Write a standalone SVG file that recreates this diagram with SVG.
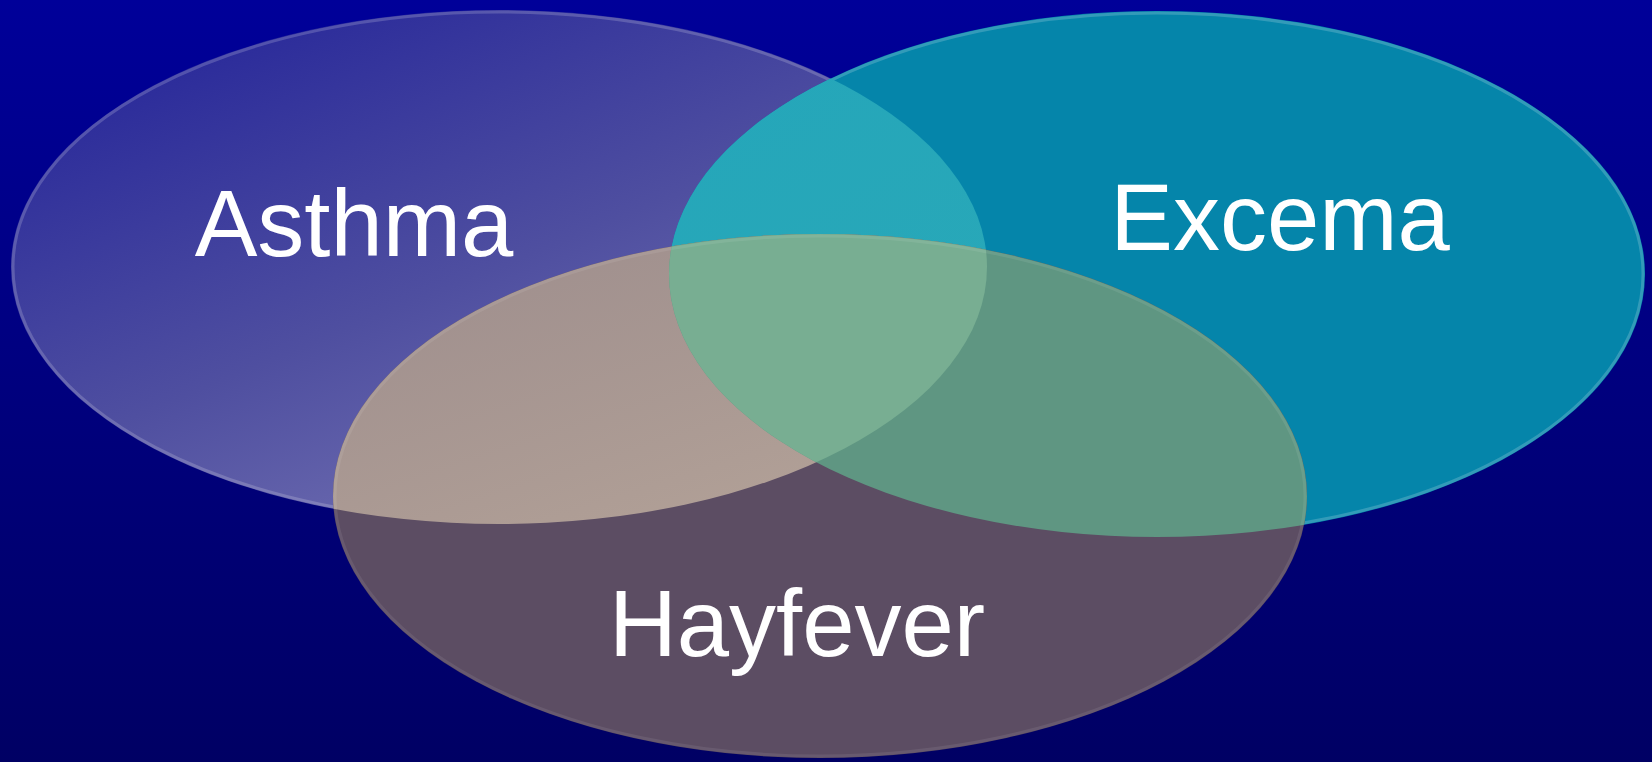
<svg xmlns="http://www.w3.org/2000/svg" width="1652" height="762" viewBox="0 0 1652 762">
  <style>
    .label { font-family: "Liberation Sans", Arial, sans-serif; font-size: 94px; fill: #ffffff; text-anchor: middle; }
    .rim { fill: none; stroke: #ffffff; stroke-opacity: 0.18; stroke-width: 3; }
    .rim-soft { fill: none; stroke: #ffffff; stroke-opacity: 0.08; stroke-width: 3; }
  </style>
  <defs>
    <linearGradient id="bg" x1="0" y1="0" x2="0" y2="1">
      <stop offset="0" stop-color="#000099"/>
      <stop offset="1" stop-color="#000064"/>
    </linearGradient>
    <linearGradient id="gAsthma" x1="0.15" y1="0.05" x2="0.85" y2="0.95">
      <stop offset="0" stop-color="#28289a"/>
      <stop offset="0.5" stop-color="#4f4fa0"/>
      <stop offset="1" stop-color="#7c7ab8"/>
    </linearGradient>
    <linearGradient id="gAH" x1="0" y1="0" x2="0.6" y2="1">
      <stop offset="0" stop-color="#9c8c8c"/>
      <stop offset="1" stop-color="#c0ae9e"/>
    </linearGradient>
    <linearGradient id="gAE" x1="0" y1="0" x2="1" y2="1">
      <stop offset="0" stop-color="#24a6ba"/>
      <stop offset="1" stop-color="#2eaab6"/>
    </linearGradient>
    <clipPath id="clipA"><ellipse cx="499" cy="267" rx="488" ry="257"/></clipPath>
    <clipPath id="clipE"><ellipse cx="1157" cy="274" rx="488" ry="263"/></clipPath>
    <clipPath id="clipH"><ellipse cx="820" cy="496" rx="487" ry="262"/></clipPath>
  </defs>

  <rect x="0" y="0" width="1652" height="762" fill="url(#bg)"/>

  <g id="asthma">
    <ellipse cx="499" cy="267" rx="488" ry="257" fill="url(#gAsthma)"/>
    <ellipse class="rim" cx="499" cy="267" rx="486" ry="255"/>
  </g>

  <g id="excema">
    <ellipse cx="1157" cy="274" rx="488" ry="263" fill="#0585aa"/>
    <ellipse class="rim" cx="1157" cy="274" rx="486" ry="261"/>
  </g>

  <g id="overlap-asthma-excema" clip-path="url(#clipA)">
    <ellipse cx="1157" cy="274" rx="488" ry="263" fill="url(#gAE)"/>
  </g>

  <g id="hayfever">
    <ellipse cx="820" cy="496" rx="487" ry="262" fill="#5c4d63"/>
    <g clip-path="url(#clipA)">
      <ellipse cx="820" cy="496" rx="487" ry="262" fill="url(#gAH)"/>
    </g>
    <g clip-path="url(#clipE)">
      <ellipse cx="820" cy="496" rx="487" ry="262" fill="#5f9682"/>
    </g>
    <g clip-path="url(#clipA)">
      <g clip-path="url(#clipE)">
        <ellipse cx="820" cy="496" rx="487" ry="262" fill="#78ae92"/>
      </g>
    </g>
    <ellipse class="rim-soft" cx="820" cy="496" rx="485" ry="260"/>
  </g>

  <g id="labels">
    <text class="label" x="354" y="256">Asthma</text>
    <text class="label" x="1280" y="250">Excema</text>
    <text class="label" x="797" y="656">Hayfever</text>
  </g>
</svg>
